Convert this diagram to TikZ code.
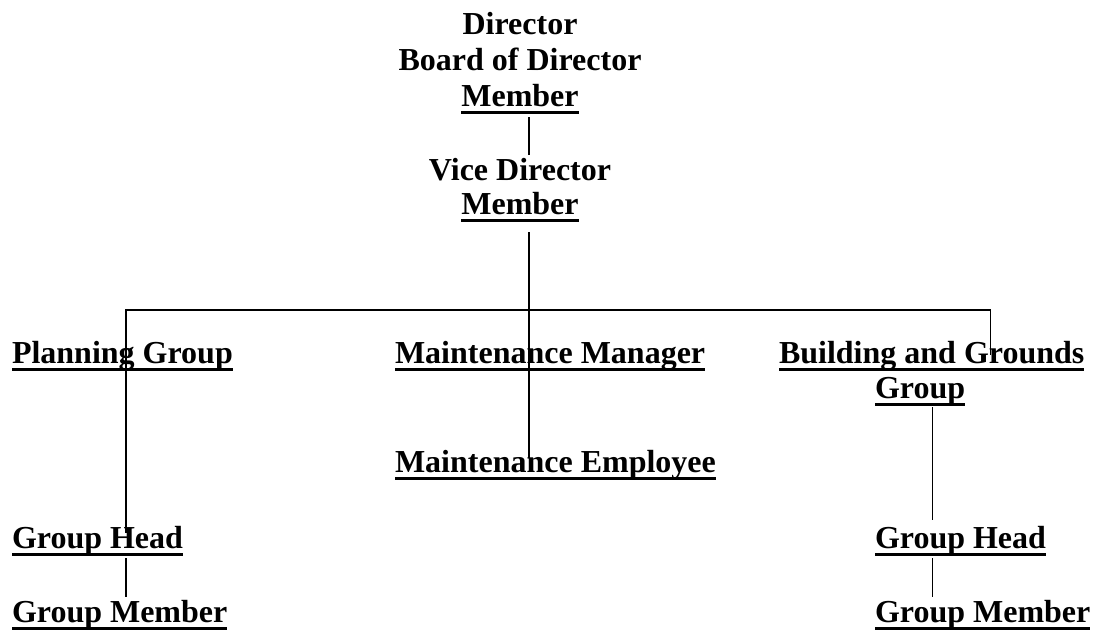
\documentclass[tikz,border=0pt]{standalone}
\usepackage{fontspec}
\setmainfont{Liberation Serif}
\usetikzlibrary{calc}
\newsavebox\ulbx
\newcommand{\ulbox}[1]{\sbox\ulbx{#1}\rlap{\vrule height -2.3pt depth 3.9pt width \wd\ulbx}\usebox\ulbx}
\tikzset{
  lbl/.style={inner sep=0pt, outer sep=0pt, font=\bfseries\fontsize{16pt}{18pt}\selectfont},
  lblc/.style={lbl, anchor=base},
  lblw/.style={lbl, anchor=base west},
  link/.style={line width=0.75pt, black}
}
\begin{document}
\begin{tikzpicture}[x=0.5pt, y=-0.5pt]
\useasboundingbox (0,0) rectangle (1096,629);
% top block
\node[lblc] (d1) at (520,34) {Director};
\node[lblc] (d2) at (520,70) {Board of Director};
\node[lblc] (d3) at (520,106) {\ulbox{Member}};
\node[lblc] (v1) at (520,180) {Vice Director};
\node[lblc] (v2) at (520,214) {\ulbox{Member}};
% middle row
\node[lblw] (pg) at (12,363) {\ulbox{Planning Group}};
\node[lblw] (mm) at (395,363) {\ulbox{Maintenance Manager}};
\node[lblw] (bg1) at (779,363) {\ulbox{Building and Grounds}};
\node[lblw] (bg2) at (875,398) {\ulbox{Group}};
\node[lblw] (me) at (395,472) {\ulbox{Maintenance Employee}};
% lower rows
\node[lblw] (gh1) at (12,548) {\ulbox{Group Head}};
\node[lblw] (gm1) at (12,622) {\ulbox{Group Member}};
\node[lblw] (gh2) at (875,548) {\ulbox{Group Head}};
\node[lblw] (gm2) at (875,622) {\ulbox{Group Member}};
% connector guides
\coordinate (spineC) at (529,0);
\coordinate (spineL) at (126,0);
\coordinate (spineR) at (990.7,0);
\coordinate (spineBG) at (932.5,0);
\coordinate (bus) at (0,310);
% connectors
\draw[link] ($(spineC |- d3.base)+(0,11)$) -- ($(spineC |- v1.base)+(0,-25)$);
\draw[link] ($(spineC |- v2.base)+(0,18)$) -- ($(spineC |- me.base)+(0,-14)$);
\draw[link] ($(spineL |- gh1.base)+(0,-15)$) |- (spineR |- bus) -- ($(spineR |- bg1.base)+(0,-8)$);
\draw[link] ($(spineBG |- bg2.base)+(0,9)$) -- ($(spineBG |- gh2.base)+(0,-28)$);
\draw[link] ($(spineL |- gh1.base)+(0,10)$) -- ($(spineL |- gm1.base)+(0,-25)$);
\draw[link] ($(spineBG |- gh2.base)+(0,10)$) -- ($(spineBG |- gm2.base)+(0,-25)$);
\end{tikzpicture}
\end{document}
